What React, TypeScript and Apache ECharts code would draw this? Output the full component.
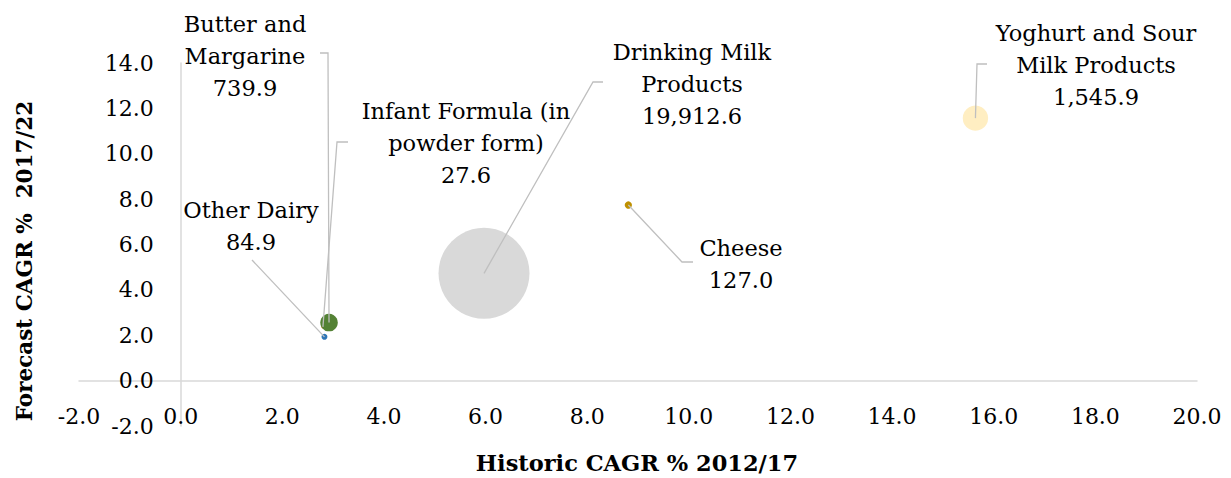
import React, { useEffect, useRef } from "react";
import * as echarts from "echarts";

const categories = [
  "Drinking Milk Products",
  "Yoghurt and Sour Milk Products",
  "Infant Formula (in powder form)",
  "Butter and Margarine",
  "Cheese",
  "Other Dairy",
];
const labelNames = [
  "Drinking Milk\nProducts",
  "Yoghurt and Sour\nMilk Products",
  "Infant Formula (in\npowder form)",
  "Butter and\nMargarine",
  "Cheese",
  "Other Dairy",
];
const historicCagr = [5.97, 15.64, 2.8, 2.92, 8.81, 2.83];
const forecastCagr = [4.73, 11.57, 2.37, 2.56, 7.74, 1.93];
const marketSize = [19912.6, 1545.9, 27.6, 739.9, 127.0, 84.9];
const colors = ["#D9D9D9", "#FFEEC2", "#ED7D31", "#548235", "#BF9000", "#2E75B6"];
const xTicks = { min: -2, max: 20, interval: 2 };
const yTicks = { min: -2, max: 14, interval: 2 };

// layout (pixels): grid, label block centres and leader-line anchors
const GRID = { left: 79, right: 34, top: 63, bottom: 52 };
const W = 1231;
const H = 478;
const labelPos: [number, number][] = [
  [692, 84],
  [1096, 65],
  [466, 143],
  [245, 56],
  [741, 264],
  [251, 226],
];
const leaderAnchors: [number, number][][] = [
  [[603, 82], [593, 82]],
  [[987, 64], [977, 64]],
  [[348, 142], [337, 142]],
  [[320, 53], [328, 53]],
  [[693, 262], [682, 262]],
  [[252, 260], [252, 260]],
];

const FONT = "DejaVu Serif";
const maxSize = Math.max(...marketSize);
const fmt = (v: number) =>
  v.toLocaleString("en-US", { minimumFractionDigits: 1, maximumFractionDigits: 1 });

export default function App() {
  const ref = useRef<HTMLDivElement>(null);
  useEffect(() => {
    if (!ref.current) return;
    const chart = echarts.init(ref.current, null, { renderer: "svg" });
    const gw = W - GRID.left - GRID.right;
    const gh = H - GRID.top - GRID.bottom;
    // place axes where the other axis is zero
    const yAxisOffset = -((0 - xTicks.min) / (xTicks.max - xTicks.min)) * gw;
    const xAxisOffset = -((0 - yTicks.min) / (yTicks.max - yTicks.min)) * gh;
    const data = categories.map((c, i) => ({
      name: c,
      value: [historicCagr[i], forecastCagr[i], marketSize[i]],
      itemStyle: { color: colors[i], opacity: 1 },
    }));
    chart.setOption({
      animation: false,
      backgroundColor: "#fff",
      grid: GRID,
      xAxis: {
        type: "value",
        ...xTicks,
        offset: xAxisOffset,
        axisLine: { onZero: false, lineStyle: { color: "#D9D9D9", width: 1.5 } },
        axisTick: { show: false },
        splitLine: { show: false },
        axisLabel: {
          formatter: (v: number) => v.toFixed(1),
          fontSize: 22,
          fontFamily: FONT,
          color: "#000",
          margin: 25,
        },
      },
      yAxis: {
        type: "value",
        ...yTicks,
        offset: yAxisOffset,
        axisLine: { show: true, onZero: false, lineStyle: { color: "#D9D9D9", width: 1.5 } },
        axisTick: { show: false },
        splitLine: { show: false },
        axisLabel: {
          formatter: (v: number) => v.toFixed(1),
          fontSize: 22,
          fontFamily: FONT,
          color: "#000",
          margin: 27,
        },
      },
      series: [
        {
          type: "scatter",
          data,
          symbolSize: (val: number[]) => 91 * Math.sqrt(val[2] / maxSize),
          itemStyle: { opacity: 1 },
          label: {
            show: true,
            formatter: (p: any) => `${labelNames[p.dataIndex]}\n${fmt(marketSize[p.dataIndex])}`,
            fontSize: 22.5,
            lineHeight: 32,
            fontFamily: FONT,
            color: "#000",
            align: "center",
          },
          labelLayout: (p: any) => ({
            x: labelPos[p.dataIndex][0],
            y: labelPos[p.dataIndex][1],
            align: "center",
            verticalAlign: "middle",
          }),
        },
      ],
    });
    const lines = categories.map((_, i) => {
      const end = chart.convertToPixel({ gridIndex: 0 }, [historicCagr[i], forecastCagr[i]]) as number[];
      return {
        type: "polyline",
        silent: true,
        z: 100,
        shape: { points: [leaderAnchors[i][0], leaderAnchors[i][1], end] },
        style: { stroke: "#BFBFBF", lineWidth: 1.3, fill: null },
      };
    });
    chart.setOption({
      graphic: [
        {
          type: "text",
          x: 637,
          y: 463,
          style: {
            text: "Historic CAGR % 2012/17",
            font: `bold 22.5px "${FONT}"`,
            fill: "#000",
            align: "center",
            verticalAlign: "middle",
          },
        },
        {
          type: "text",
          x: 24,
          y: 261,
          rotation: Math.PI / 2,
          style: {
            text: "Forecast CAGR %  2017/22",
            font: `bold 21.5px "${FONT}"`,
            fill: "#000",
            align: "center",
            verticalAlign: "middle",
          },
        },
        ...lines,
      ],
    });
    return () => chart.dispose();
  }, []);
  return (
    <div
      ref={ref}
      style={{ position: "fixed", left: 0, top: 0, width: W, height: H }}
    />
  );
}
